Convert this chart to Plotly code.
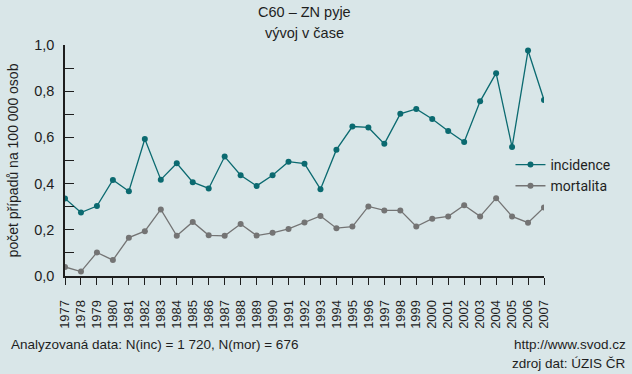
import plotly.graph_objects as go

years = list(range(1977, 2008))
incidence = [0.336, 0.275, 0.303, 0.416, 0.367, 0.593, 0.417, 0.488, 0.406, 0.379,
             0.517, 0.436, 0.390, 0.436, 0.495, 0.486, 0.376, 0.547, 0.647, 0.643,
             0.572, 0.702, 0.723, 0.680, 0.628, 0.580, 0.756, 0.878, 0.558, 0.976, 0.762]
mortalita = [0.039, 0.019, 0.102, 0.069, 0.166, 0.194, 0.288, 0.174, 0.234, 0.176,
             0.174, 0.225, 0.175, 0.187, 0.204, 0.232, 0.260, 0.207, 0.214, 0.301,
             0.284, 0.284, 0.214, 0.248, 0.258, 0.306, 0.258, 0.337, 0.258, 0.231, 0.297]
y_ticks = [0.0, 0.2, 0.4, 0.6, 0.8, 1.0]
y_labels = ["0,0", "0,2", "0,4", "0,6", "0,8", "1,0"]

BG = "#d9e6e8"
TEAL = "#0b6a70"
GRAY = "#747474"
FONT = "Liberation Sans, Arial, sans-serif"
TXT = "#1e1e1e"

fig = go.Figure()
fig.add_trace(go.Scatter(x=years, y=incidence, name="incidence", mode="lines+markers",
                         line=dict(color=TEAL, width=1.3), marker=dict(size=6, color=TEAL)))
fig.add_trace(go.Scatter(x=years, y=mortalita, name="mortalita", mode="lines+markers",
                         line=dict(color=GRAY, width=1.3), marker=dict(size=6, color=GRAY)))

fig.update_layout(
    width=632, height=374,
    paper_bgcolor=BG, plot_bgcolor=BG,
    margin=dict(l=59, r=88, t=45, b=98),
    font=dict(family=FONT, color=TXT, size=14),
    showlegend=True,
    legend=dict(x=0.93, y=0.55, xanchor="left", yanchor="top", bgcolor="rgba(0,0,0,0)",
                font=dict(family="Roboto, sans-serif", size=14, color=TXT),
                itemwidth=30, tracegroupgap=2),
    xaxis=dict(range=[1977, 2007], tickmode="array", tickvals=years,
               ticktext=[str(y) for y in years], tickangle=-90,
               showgrid=False, zeroline=False, showline=True, linecolor="#1e1e1e",
               linewidth=1.5, ticks="outside", ticklen=7, tickcolor="#1e1e1e",
               ticklabelstandoff=10,
               tickfont=dict(size=13, family=FONT, color=TXT)),
    yaxis=dict(range=[0, 1.0], tickmode="array", tickvals=y_ticks, ticktext=y_labels,
               showgrid=False, zeroline=False, showline=True, linecolor="#1e1e1e",
               linewidth=1.5, ticks="inside", ticklen=9, tickcolor="#1e1e1e",
               ticklabelstandoff=6,
               tickfont=dict(size=14.5, family=FONT, color=TXT),
               minor=dict(tickvals=[0.1, 0.3, 0.5, 0.7, 0.9], ticks="inside",
                          ticklen=9, tickcolor="#1e1e1e"),
               title=dict(text="počet případů na 100 000 osob", standoff=12,
                          font=dict(size=14, family=FONT, color=TXT))),
)

fig.add_annotation(text="C60 – ZN pyje", x=0.5, y=1, xref="paper", yref="paper",
                   xanchor="center", yanchor="middle", yshift=45-12, showarrow=False,
                   font=dict(size=14.5))
fig.add_annotation(text="vývoj v čase", x=0.5, y=1, xref="paper", yref="paper",
                   xanchor="center", yanchor="middle", yshift=45-33, showarrow=False,
                   font=dict(size=14.5))
fig.add_annotation(text="Analyzovaná data: N(inc) = 1 720, N(mor) = 676", x=0, y=0,
                   xref="paper", yref="paper", xanchor="left", yanchor="middle",
                   xshift=-59+3, yshift=-(344-276), showarrow=False, font=dict(size=13.5))
fig.add_annotation(text="http://www.svod.cz", x=1, y=0, xref="paper", yref="paper",
                   xanchor="right", yanchor="middle", xshift=88-4, yshift=-(344-276),
                   showarrow=False, font=dict(size=13.5))
fig.add_annotation(text="zdroj dat: ÚZIS ČR", x=1, y=0, xref="paper", yref="paper",
                   xanchor="right", yanchor="middle", xshift=88-4, yshift=-(363-276),
                   showarrow=False, font=dict(size=13.5))

fig.write_html("out.html", config={"displayModeBar": False},
               post_script="document.body.style.margin='0';document.body.style.background='%s';" % BG)
